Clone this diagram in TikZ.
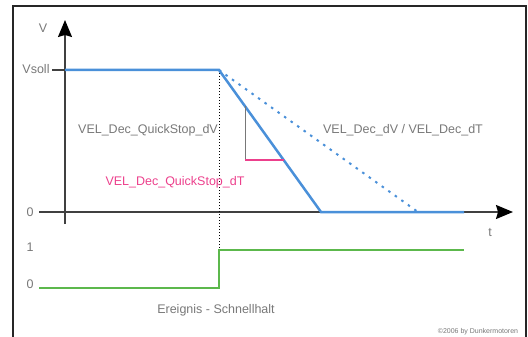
\documentclass[tikz,border=0pt]{standalone}
\usepackage{fontspec}
\setmainfont{Liberation Sans}
\usetikzlibrary{arrows.meta}
\definecolor{kurveblau}{RGB}{74,144,217}
\definecolor{signalgruen}{RGB}{92,184,76}
\definecolor{rampenrosa}{RGB}{236,64,140}
\definecolor{textgrau}{RGB}{120,120,120}
\definecolor{achsgrau}{RGB}{64,64,64}

\begin{document}
\begin{tikzpicture}[x=1pt,y=-1pt,
  beschr/.style={text=textgrau,font=\fontsize{12.5}{15}\selectfont,inner sep=0pt},
  achse/.style={draw=achsgrau,line width=1.5pt,-{Stealth[length=17pt,width=14pt,inset=2pt,color=black]}},
  kurve/.style={draw=kurveblau,line width=2.5pt},
  signal/.style={draw=signalgruen,line width=2.5pt}]
\useasboundingbox (0,0) rectangle (528,337);
\draw[line width=2pt,draw=black!85] (13,6) rectangle (526,360);
% Achsen
\coordinate (ybot) at (65,224);
\coordinate (ytop) at (65,20);
\coordinate (xlinks) at (39,212);
\coordinate (xrechts) at (513,212);
\coordinate (tick) at (52,70);
\draw[achse] (ybot) -- (ytop);
\draw[achse] (xlinks) -- (xrechts);
% Geschwindigkeit
\coordinate (vstart) at (65,70);
\coordinate (halt) at (219,70);
\coordinate (null) at (321,212);
\coordinate (nulldT) at (418,212);
\coordinate (vende) at (464,212);
\draw[draw=achsgrau,line width=1.2pt] (tick) -- (vstart);
\draw[black,line width=1pt,dotted] (halt) -- (219,250);
\draw[draw=kurveblau,line width=2pt,dash pattern=on 2.5pt off 5.5pt] (halt) -- (nulldT);
\draw[kurve] (vstart) -- (halt) -- (null) -- (vende);
% Rampe
\coordinate (rtop) at (245,106);
\coordinate (recke) at (245,160);
\coordinate (rrechts) at (284,160);
\draw[draw=textgrau,line width=1pt] (rtop) -- (recke);
\draw[draw=rampenrosa,line width=1.2pt] (recke) -- (rrechts);
% Signal
\coordinate (slow) at (39,288);
\coordinate (sstep) at (219,288);
\coordinate (shoch) at (219,250);
\coordinate (sende) at (464,250);
\draw[signal] (slow) -- (sstep) -- (shoch) -- (sende);
% Texte
\node[beschr] (lv) at (43,28) {V};
\node[beschr] (lvsoll) at (36,69) {Vsoll};
\node[beschr] (lnull) at (30,212) {0};
\node[beschr] (lt) at (490,233) {t};
\node[beschr] (leins) at (30,247) {1};
\node[beschr] (lnull2) at (30,284) {0};
\node[beschr] (ldv) at (148,130) {VEL\_Dec\_QuickStop\_dV};
\node[beschr,text=rampenrosa] (ldt) at (175,182) {VEL\_Dec\_QuickStop\_dT};
\node[beschr] (ldvdt) at (403,130) {VEL\_Dec\_dV / VEL\_Dec\_dT};
\node[beschr] (lereignis) at (216,310) {Ereignis - Schnellhalt};
\node[text=textgrau,font=\fontsize{7}{8}\selectfont,inner sep=0pt] (lcopy) at (478,332) {©2006 by Dunkermotoren};
\end{tikzpicture}
\end{document}
